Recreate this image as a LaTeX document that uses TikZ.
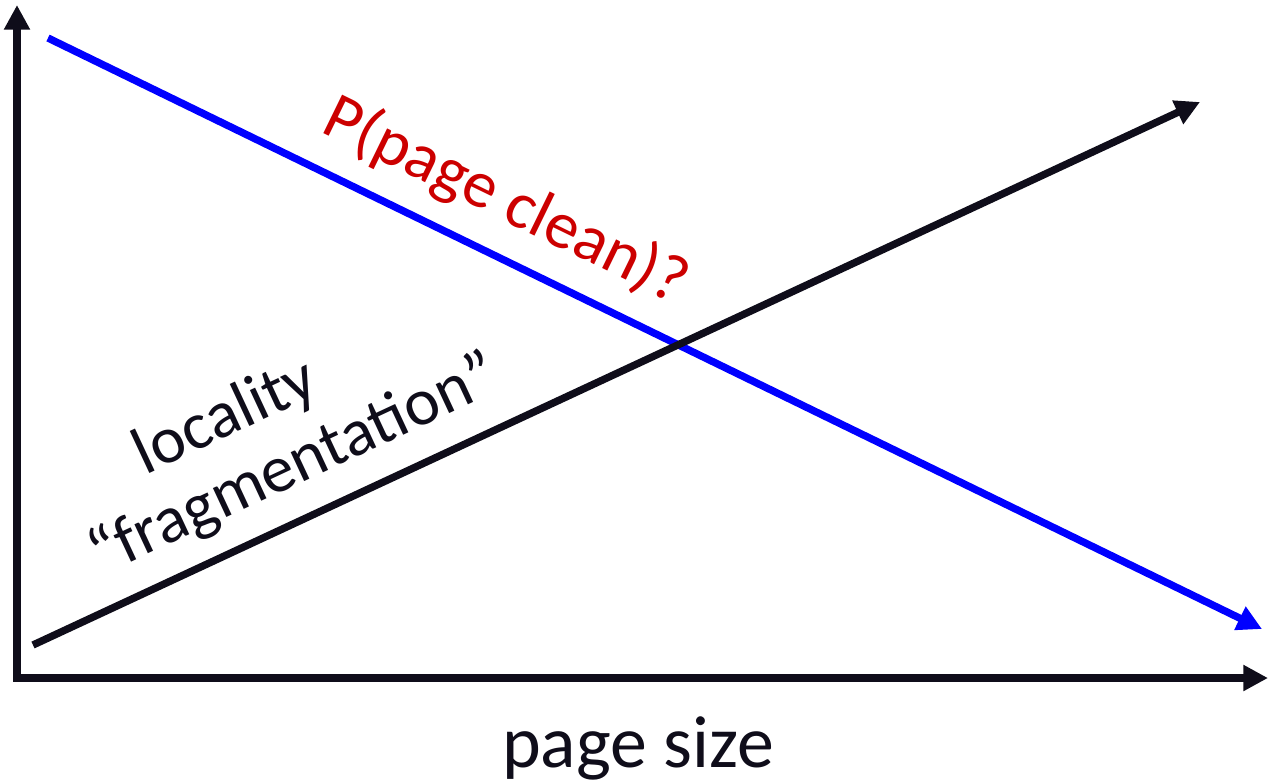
\documentclass[tikz,border=0pt]{standalone}
\usepackage{fontspec}
\setmainfont{Carlito}
\usetikzlibrary{arrows.meta}
\definecolor{axisblack}{RGB}{15,13,26}
\definecolor{lineblue}{RGB}{0,0,255}
\definecolor{labelred}{RGB}{204,0,0}
\begin{document}
\begin{tikzpicture}[x=0.02cm,y=-0.02cm,
  axisline/.style={draw=axisblack,line width=4.2pt,-{Triangle[length=14pt,width=14pt]}},
  curveline/.style={line width=4.2pt,-{Triangle[length=14pt,width=14pt]}},
  lbl/.style={font=\fontsize{38}{44}\selectfont,inner sep=0pt}]
\useasboundingbox (0,0) rectangle (1268,779);
\coordinate (origin) at (17,678);
\coordinate (ytip) at (17,5);
\coordinate (xtip) at (1268,678);
\coordinate (bstart) at (48,38);
\coordinate (bend) at (1262,629);
\coordinate (kstart) at (33,645);
\coordinate (kend) at (1200,102);
\draw[axisline,line cap=butt] (origin) -- (ytip);
\draw[axisline] ([xshift=-2pt]origin) -- (xtip);
\draw[curveline,draw=lineblue,fill=lineblue] (bstart) -- (bend);
\draw[curveline,draw=axisblack] (kstart) -- (kend);
\node[lbl,text=labelred,rotate=-26] (pclean) at (506,201) {P(page clean)?};
\node[lbl,text=axisblack,rotate=25] (loc) at (226,418) {locality};
\node[lbl,text=axisblack,rotate=25] (frag) at (294,466) {“fragmentation”};
\node[font=\fontsize{42}{48}\selectfont,inner sep=0pt,text=axisblack] (xlabel) at (638,748) {page size};
\end{tikzpicture}
\end{document}
